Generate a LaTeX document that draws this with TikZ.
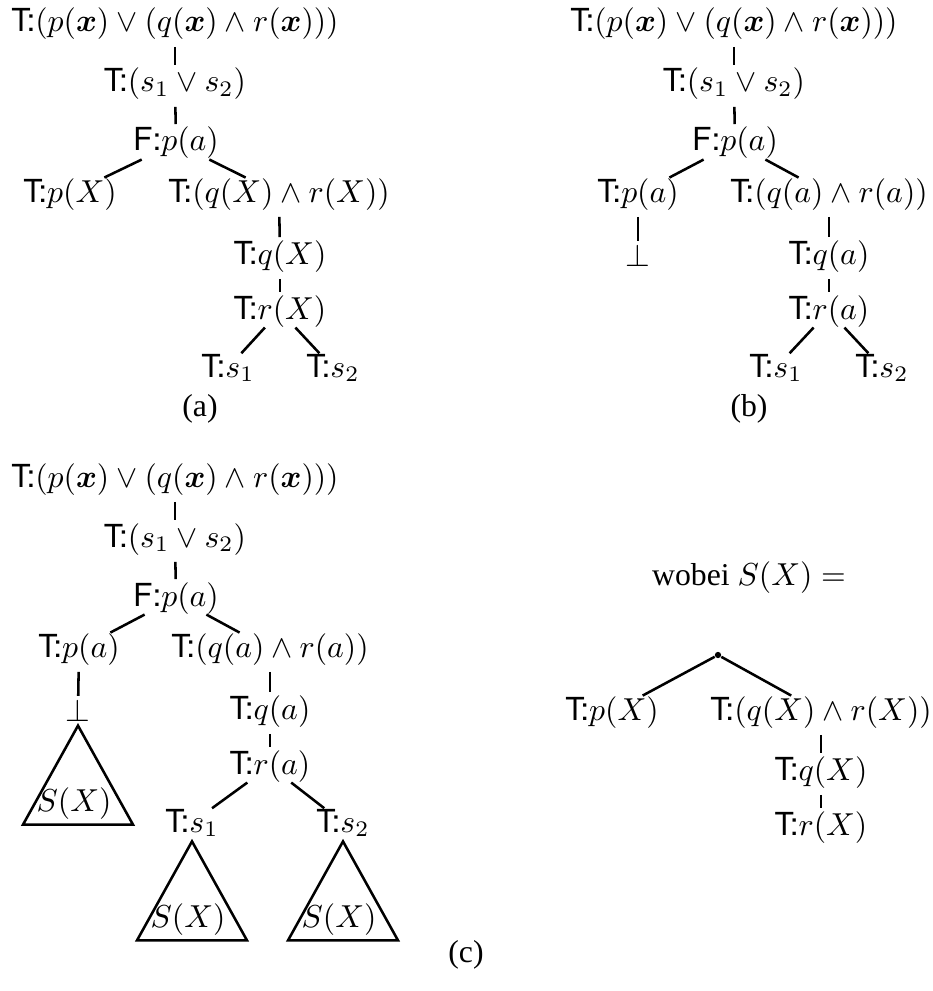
\documentclass[tikz,border=0pt]{standalone}
\usepackage{amsmath}
\usepackage[no-math]{fontspec}
\setmainfont{Liberation Serif}
\setsansfont{TeX Gyre Heros}

\newcommand{\Tl}[1]{\textsf{T:}$#1$}
\newcommand{\Fl}[1]{\textsf{F:}$#1$}
\newcommand{\bx}{\boldsymbol{x}}

\begin{document}
\begin{tikzpicture}[x=0.315pt,y=-0.315pt,
  lbl/.style={anchor=base,inner xsep=0pt,inner ysep=0pt},
  br/.style={thick},
  vbr/.style={thick,shorten <=2pt,shorten >=0.8pt}]
\useasboundingbox (0,0) rectangle (932,991);
% (a)
\node[lbl] (a1) at (175,32) {\Tl{(p(\bx)\vee(q(\bx)\wedge r(\bx)))}};
\node[lbl] (a2) at (175,92) {\Tl{(s_1\vee s_2)}};
\node[lbl] (a3) at (176,151) {\Fl{p(a)}};
\node[lbl] (a4) at (70,202) {\Tl{p(X)}};
\node[lbl] (a5) at (279,202) {\Tl{(q(X)\wedge r(X))}};
\node[lbl] (a6) at (280,264) {\Tl{q(X)}};
\node[lbl] (a7) at (280,319) {\Tl{r(X)}};
\node[lbl] (a8) at (228,377) {\Tl{s_1}};
\node[lbl] (a9) at (333,377) {\Tl{s_2}};
\node[lbl] (capa) at (200,416) {(a)};
% (b)
\node[lbl] (b1) at (734,32) {\Tl{(p(\bx)\vee(q(\bx)\wedge r(\bx)))}};
\node[lbl] (b2) at (734,92) {\Tl{(s_1\vee s_2)}};
\node[lbl] (b3) at (735,151) {\Fl{p(a)}};
\node[lbl] (b4) at (638,202) {\Tl{p(a)}};
\node[lbl] (bb) at (638,266) {$\bot$};
\node[lbl] (b5) at (829,202) {\Tl{(q(a)\wedge r(a))}};
\node[lbl] (b6) at (829,264) {\Tl{q(a)}};
\node[lbl] (b7) at (829,319) {\Tl{r(a)}};
\node[lbl] (b8) at (776,377) {\Tl{s_1}};
\node[lbl] (b9) at (882,377) {\Tl{s_2}};
\node[lbl] (capb) at (749,416) {(b)};
% (c)
\node[lbl] (c1) at (175,487) {\Tl{(p(\bx)\vee(q(\bx)\wedge r(\bx)))}};
\node[lbl] (c2) at (175,547) {\Tl{(s_1\vee s_2)}};
\node[lbl] (c3) at (176,606) {\Fl{p(a)}};
\node[lbl] (c4) at (79,657) {\Tl{p(a)}};
\node[lbl] (cb) at (78,721) {$\bot$};
\node[lbl] (c5) at (270,657) {\Tl{(q(a)\wedge r(a))}};
\node[lbl] (c6) at (270,719) {\Tl{q(a)}};
\node[lbl] (c7) at (270,774) {\Tl{r(a)}};
\node[lbl] (c8) at (192,832) {\Tl{s_1}};
\node[lbl] (c9) at (343,832) {\Tl{s_2}};
\node[lbl] (capc) at (466,962) {(c)};
% S(X)
\node[lbl] (wob) at (749,585) {wobei $S(X)=$};
\node[circle,fill,inner sep=0.7pt] (s0) at (718,655) {};
\node[lbl] (s1) at (612,720) {\Tl{p(X)}};
\node[lbl] (s2) at (821,720) {\Tl{(q(X)\wedge r(X))}};
\node[lbl] (s3) at (821,780) {\Tl{q(X)}};
\node[lbl] (s4) at (821,835) {\Tl{r(X)}};

\foreach \u/\v in {a3/a4,a3/a5,a7/a8,a7/a9,b3/b4,b3/b5,b7/b8,b7/b9,
  c3/c4,c3/c5,c7/c8,c7/c9,s0/s1,s0/s2}
  \draw[br] (\u) -- (\v);
\foreach \u/\v in {a1/a2,a2/a3,a5/a6,a6/a7,b1/b2,b2/b3,b4/bb,b5/b6,b6/b7,
  c1/c2,c2/c3,c4/cb,c5/c6,c6/c7,s2/s3,s3/s4}
  \draw[vbr] (\u) -- (\v);

\foreach \t in {cb,c8,c9}
  \draw[br] (\t.south) ++(0,4) -- ++(-55,99) -- ++(110,0) -- cycle
    (\t.south) ++(-4,90) node[lbl] (sx\t) {$S(X)$};
\end{tikzpicture}
\end{document}
